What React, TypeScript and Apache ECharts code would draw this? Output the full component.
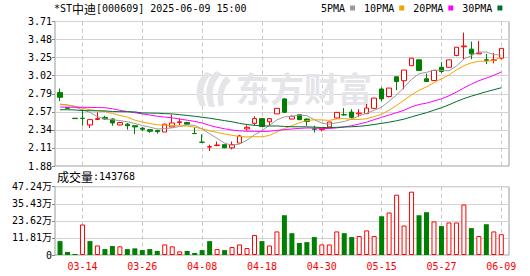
import React, { useEffect, useRef } from "react";
import * as echarts from "echarts";

const MONO = "DejaVu Sans Mono";
const CJK = "Noto Sans CJK SC";

const dates = ["03-11","03-12","03-13","03-14","03-17","03-18","03-19","03-20","03-21","03-24","03-25","03-26","03-27","03-28","03-31","04-01","04-02","04-03","04-07","04-08","04-09","04-10","04-11","04-14","04-15","04-16","04-17","04-18","04-21","04-22","04-23","04-24","04-25","04-28","04-29","04-30","05-06","05-07","05-08","05-09","05-12","05-13","05-14","05-15","05-16","05-19","05-20","05-21","05-22","05-23","05-26","05-27","05-28","05-29","05-30","06-03","06-04","06-05","06-06","06-09"];

const opens = [2.81,2.62,2.485,2.485,2.40,2.47,2.495,2.475,2.40,2.41,2.39,2.36,2.34,2.33,2.31,2.375,2.43,2.43,2.292,2.182,2.12,2.14,2.15,2.11,2.17,2.35,2.42,2.48,2.44,2.54,2.73,2.475,2.53,2.475,2.35,2.34,2.375,2.488,2.53,2.563,2.54,2.543,2.61,2.855,2.76,3.01,2.96,3.15,3.225,2.985,2.963,3.13,3.13,3.28,3.39,3.36,3.30,3.225,3.22,3.245];
const closes = [2.75,2.61,2.48,2.482,2.467,2.48,2.475,2.425,2.43,2.39,2.375,2.345,2.32,2.315,2.41,2.425,2.44,2.41,2.29,2.18,2.125,2.145,2.11,2.15,2.26,2.37,2.48,2.38,2.48,2.61,2.56,2.51,2.467,2.445,2.345,2.35,2.437,2.559,2.527,2.496,2.55,2.614,2.74,2.73,2.867,2.95,3.095,3.245,3.09,2.95,3.09,3.077,3.224,3.384,3.40,3.30,3.31,3.22,3.225,3.37];
const lows = [2.70,2.61,2.48,2.39,2.36,2.46,2.465,2.39,2.395,2.34,2.285,2.32,2.30,2.29,2.31,2.37,2.40,2.405,2.29,2.18,2.07,2.13,2.11,2.09,2.17,2.33,2.39,2.38,2.39,2.54,2.55,2.47,2.46,2.39,2.305,2.32,2.37,2.48,2.518,2.48,2.50,2.54,2.60,2.70,2.75,2.84,2.85,3.15,3.09,2.95,2.963,3.056,3.13,3.27,3.23,3.233,3.30,3.17,3.18,3.23];
const highs = [2.86,2.62,2.485,2.59,2.475,2.56,2.515,2.485,2.44,2.425,2.395,2.37,2.345,2.34,2.415,2.53,2.48,2.44,2.37,2.28,2.15,2.19,2.15,2.19,2.275,2.395,2.51,2.48,2.485,2.61,2.74,2.52,2.535,2.48,2.39,2.36,2.44,2.565,2.614,2.60,2.60,2.665,2.74,2.875,2.867,3.01,3.095,3.245,3.225,3.05,3.09,3.195,3.224,3.384,3.57,3.455,3.465,3.30,3.31,3.37];

const ma5 = [2.664,2.652,2.627,2.593,2.558,2.504,2.477,2.466,2.455,2.44,2.419,2.393,2.372,2.349,2.353,2.363,2.382,2.40,2.395,2.349,2.289,2.23,2.17,2.142,2.158,2.207,2.274,2.328,2.394,2.464,2.502,2.508,2.525,2.518,2.465,2.423,2.409,2.427,2.444,2.474,2.514,2.549,2.585,2.626,2.70,2.78,2.876,2.977,3.049,3.066,3.094,3.09,3.086,3.145,3.235,3.277,3.324,3.323,3.291,3.285];
const ma10 = [2.66,2.652,2.638,2.612,2.593,2.58,2.57,2.545,2.52,2.499,2.461,2.435,2.419,2.402,2.397,2.391,2.388,2.386,2.372,2.351,2.326,2.306,2.285,2.269,2.254,2.248,2.252,2.249,2.268,2.311,2.355,2.391,2.427,2.456,2.465,2.463,2.458,2.476,2.481,2.47,2.469,2.479,2.506,2.535,2.587,2.647,2.713,2.781,2.838,2.883,2.937,2.983,3.032,3.097,3.151,3.186,3.207,3.205,3.218,3.26];
const ma20 = [2.627,2.625,2.624,2.624,2.622,2.62,2.618,2.605,2.585,2.57,2.555,2.54,2.525,2.51,2.50,2.49,2.475,2.46,2.445,2.425,2.394,2.37,2.352,2.335,2.325,2.32,2.32,2.318,2.32,2.331,2.34,2.349,2.356,2.362,2.359,2.355,2.355,2.363,2.375,2.39,2.412,2.435,2.467,2.496,2.526,2.555,2.586,2.629,2.659,2.676,2.703,2.731,2.769,2.816,2.869,2.916,2.96,2.993,3.028,3.072];
const ma30 = [2.593,2.592,2.59,2.582,2.58,2.579,2.578,2.57,2.568,2.567,2.565,2.552,2.55,2.549,2.543,2.54,2.53,2.52,2.51,2.497,2.485,2.47,2.455,2.44,2.42,2.405,2.395,2.388,2.386,2.387,2.381,2.377,2.377,2.376,2.372,2.367,2.366,2.37,2.374,2.377,2.383,2.392,2.406,2.42,2.435,2.453,2.474,2.502,2.529,2.555,2.587,2.618,2.655,2.696,2.734,2.765,2.793,2.821,2.846,2.871];

// volume in 万 (10k shares)
const volumes = [9.6,2.1,0.7,21.1,9.6,6.6,4.1,6.2,6.0,4.1,4.6,3.4,4.1,2.8,7.3,6.0,2.5,2.8,1.4,3.4,9.6,4.1,3.4,5.5,7.3,4.8,13.8,9.6,6.6,16.3,27.5,15.1,8.3,8.9,12.4,7.3,7.3,16.3,15.1,12.4,13.1,17.0,13.1,26.8,29.4,41.7,20.4,43.8,27.5,29.6,23.2,20.0,22.5,22.5,34.9,18.6,13.1,21.3,16.3,14.3768];
const latestVolume = "143768";

const priceLabels = ["1.88","2.11","2.34","2.57","2.79","3.02","3.25","3.48","3.71"];
const volumeLabels = ["0","11.81万","23.62万","35.43万","47.24万"];
const maNames = ["5PMA","10PMA","20PMA","30PMA"];
const maColors = ["#9b9b9b","#f5a300","#ff00ff","#006e2e"];
const titleCode = "[000609]";
const titleName = "中迪";
const titleTime = "2025-06-09 15:00";

const PMIN = 1.88, PMAX = 3.71, PSTEP = (PMAX - PMIN) / 8;
const VMAX = 47.24, VSTEP = 11.81;

const UP = "#ff0000";
const DOWN = "#008000";

const LOGO_D = "M 14 2 C 4 10 2 24 8 36 L 14 36 C 9 24 11 12 20 4 Z M 24 1 C 14 9 12 24 17 37 L 23 37 C 19 25 20 12 30 4 Z M 34 6 C 26 14 24 26 27 37 L 32 35 C 30 25 32 16 39 11 Z";
let logoRegistered = false;

const isMark = (i: number) => i >= 3 && (i - 3) % 8 === 0;

export default function App() {
  const ref = useRef<HTMLDivElement>(null);
  useEffect(() => {
    if (!ref.current) return;
    if (!logoRegistered) {
      echarts.graphic.registerShape("emlogo", echarts.graphic.extendPath(LOGO_D, {}));
      logoRegistered = true;
    }
    const chart = echarts.init(ref.current, undefined, { renderer: "svg" });
    const ohlc = opens.map((o, i) => [o, closes[i], lows[i], highs[i]]);
    const volItems = volumes.map((v, i) => {
      const up = i === 0 ? closes[0] >= opens[0] : closes[i] >= closes[i - 1];
      return {
        value: v,
        itemStyle: up
          ? { color: "#ffffff", borderColor: UP, borderWidth: 1 }
          : { color: DOWN, borderColor: DOWN, borderWidth: 0 },
      };
    });
    const mas = [ma5, ma10, ma20, ma30];
    const dashed = { color: "#c8c8c8", type: [4, 3], width: 1 };
    const option: any = {
      animation: false,
      backgroundColor: "#ffffff",
      textStyle: { fontFamily: MONO },
      legend: {
        data: maNames,
        left: 321,
        top: 3,
        padding: 0,
        icon: "rect",
        itemWidth: 5,
        itemHeight: 5,
        itemGap: 9,
        align: "right",
        selectedMode: false,
        textStyle: { fontFamily: MONO, fontSize: 10, color: "#000000" },
      },
      grid: [
        { left: 60.04, top: 21.5, width: 441.26, height: 144.5, show: false },
        { left: 60.04, top: 186.7, width: 441.26, height: 68.3, show: false },
        { left: 55, top: 21.5, width: 454, height: 144.5, show: true, borderColor: "#9a9a9a", borderWidth: 1, backgroundColor: "transparent" },
        { left: 55, top: 186.7, width: 454, height: 68.3, show: true, borderColor: "#9a9a9a", borderWidth: 1, backgroundColor: "transparent" },
      ],
      xAxis: [
        {
          type: "category", gridIndex: 0, data: dates, boundaryGap: false,
          axisLine: { show: false }, axisTick: { show: false }, axisLabel: { show: false },
          splitLine: { show: true, interval: (i: number) => isMark(i), lineStyle: dashed },
        },
        {
          type: "category", gridIndex: 1, data: dates, boundaryGap: false,
          axisLine: { show: false }, axisTick: { show: false },
          axisLabel: { interval: (i: number) => isMark(i), color: "#ff0000", fontFamily: MONO, fontSize: 10, margin: 6 },
          splitLine: { show: true, interval: (i: number) => isMark(i), lineStyle: dashed },
        },
        { type: "value", gridIndex: 2, min: 0, max: 1, show: false },
        { type: "value", gridIndex: 3, min: 0, max: 1, show: false },
      ],
      yAxis: [
        { type: "value", gridIndex: 0, min: PMIN, max: PMAX, show: false },
        { type: "value", gridIndex: 1, min: 0, max: VMAX, show: false },
        {
          type: "value", gridIndex: 2, min: PMIN, max: PMAX, interval: PSTEP,
          axisLine: { show: false },
          axisTick: { show: true, length: 3, lineStyle: { color: "#888888" } },
          axisLabel: {
            margin: 3, color: "#000000", fontFamily: MONO, fontSize: 10,
            formatter: (v: number) => priceLabels[Math.round((v - PMIN) / PSTEP)] ?? "",
          },
          splitLine: { show: true, lineStyle: { color: "#d2d2d2", width: 1 } },
        },
        {
          type: "value", gridIndex: 3, min: 0, max: VMAX, interval: VSTEP,
          axisLine: { show: false },
          axisTick: { show: true, length: 3, lineStyle: { color: "#888888" } },
          axisLabel: {
            margin: 3, color: "#000000", fontFamily: `${MONO}, ${CJK}`, fontSize: 10,
            formatter: (v: number) => volumeLabels[Math.round(v / VSTEP)] ?? "",
          },
          splitLine: { show: true, lineStyle: { color: "#d2d2d2", width: 1 } },
        },
      ],
      graphic: [
        {
          type: "emlogo", x: 192, y: 70, z: 1,
          style: { fill: "#e4e4e9" },
        },
        {
          type: "text", left: 236, top: 70, z: 1,
          style: { text: "东方财富", fontFamily: CJK, fontSize: 34, fontWeight: "bold", fill: "#e4e4e9" },
        },
        {
          type: "text", left: 54, top: 2,
          style: {
            text: `{a|*ST}{b|${titleName}}{a|${titleCode} ${titleTime}}`,
            fill: "#000000",
            rich: {
              a: { fontFamily: MONO, fontSize: 10, fill: "#000000" },
              b: { fontFamily: CJK, fontSize: 12, fill: "#000000" },
            },
          },
        },
        {
          type: "text", left: 57, top: 170,
          style: {
            text: `{b|成交量}{a|:${latestVolume}}`,
            fill: "#000000",
            rich: {
              a: { fontFamily: MONO, fontSize: 10, fill: "#000000" },
              b: { fontFamily: CJK, fontSize: 12, fill: "#000000" },
            },
          },
        },
      ],
      series: [
        {
          type: "candlestick", xAxisIndex: 0, yAxisIndex: 0, data: ohlc,
          barWidth: 5, clip: false,
          itemStyle: { color: "#ffffff", color0: DOWN, borderColor: UP, borderColor0: DOWN, borderWidth: 1 },
        },
        ...maNames.map((name, k) => ({
          name, type: "line", xAxisIndex: 0, yAxisIndex: 0, data: mas[k],
          symbol: "none", showSymbol: false, clip: false,
          color: maColors[k],
          lineStyle: { width: 1, color: maColors[k] },
          itemStyle: { color: maColors[k] },
        })),
        {
          type: "bar", xAxisIndex: 1, yAxisIndex: 1, data: volItems,
          barWidth: 5, clip: false,
        },
      ],
    };
    chart.setOption(option);
    return () => chart.dispose();
  }, []);
  return <div ref={ref} style={{ position: "fixed", left: 0, top: 0, width: 530, height: 276 }} />;
}
